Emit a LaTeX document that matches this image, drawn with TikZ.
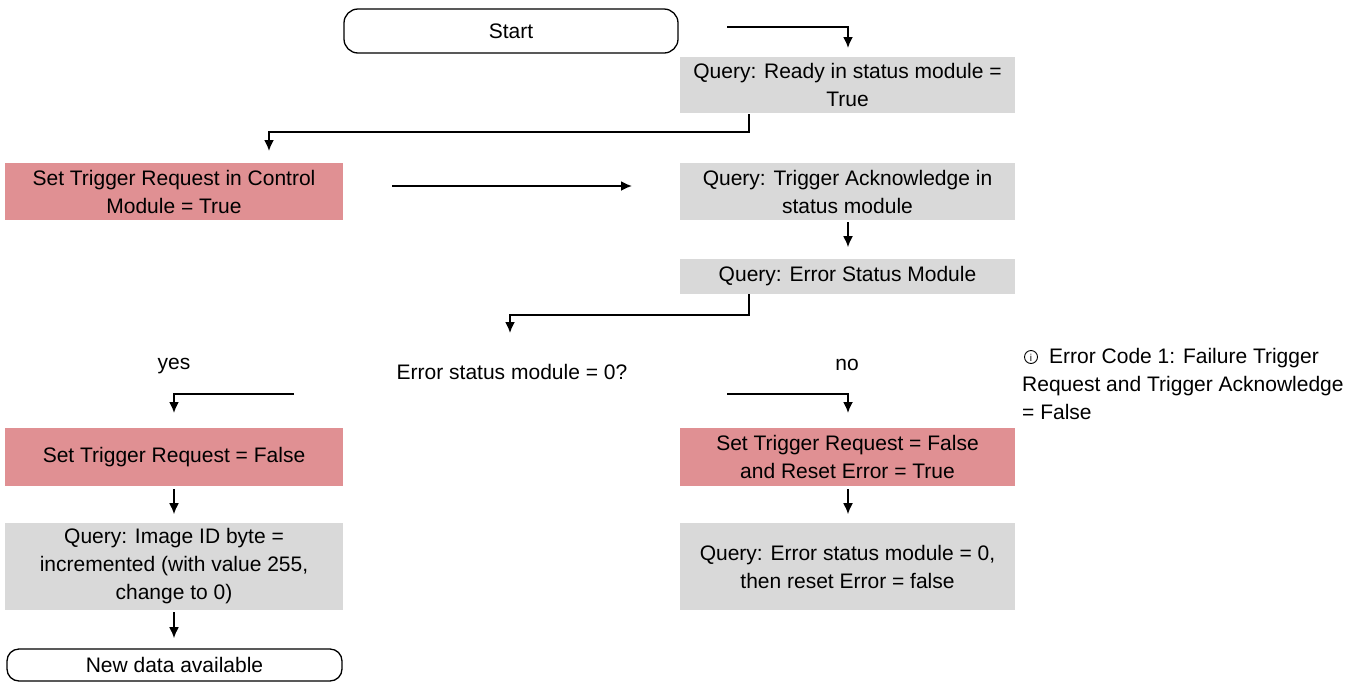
\documentclass[tikz,border=0pt]{standalone}
\usepackage{fontspec}
\setmainfont{Liberation Sans}
\usetikzlibrary{positioning,calc,arrows.meta}

\definecolor{actred}{HTML}{E09093}
\definecolor{querygray}{HTML}{D9D9D9}

\begin{document}
\begin{tikzpicture}
    [x=1pt,y=-1pt,
     txt/.style={align=center,font=\fontsize{21}{28}\selectfont,inner sep=0pt},
     query/.style={txt,fill=querygray,minimum width=335pt},
     action/.style={txt,fill=actred,minimum width=338pt},
     terminal/.style={txt,draw,line width=1.3pt,rounded corners=14pt},
     flow/.style={line width=1.8pt,-{Latex[length=11pt,width=10pt]}}]

    \useasboundingbox (0,0) rectangle (1365,686);

    % start and first query
    \node[terminal,minimum width=334pt,minimum height=44pt] (start) at (511,31) {Start};
    \node[query,minimum height=56pt] (ready) at (847.5,85) {Query: Ready in status module =\\True};

    % trigger request
    \node[action,minimum height=57pt] (setreq) at (174,191.5) {Set Trigger Request in Control\\Module = True};
    \node[query,minimum height=57pt] (ack) at (847.5,191.5) {Query: Trigger Acknowledge in\\status module};
    \node[query,minimum height=35pt] (errq) at (847.5,276.5) {Query: Error Status Module};

    % decision
    \node[txt] (decide) at (512,372) {Error status module = 0?};
    \node[txt] (yes) at (174,366) {yes};
    \node[txt] (no) at (847,365) {no};

    % yes branch
    \node[action,minimum height=58pt] (setfalse) at (174,457) {Set Trigger Request = False};
    \node[query,minimum width=338pt,minimum height=87pt] (imgid) at (174,566.5) {Query: Image ID byte =\\incremented (with value 255,\\change to 0)};
    \node[terminal,minimum width=335pt,minimum height=32pt,rounded corners=12pt] (done) at (174.5,665) {New data available};

    % no branch
    \node[action,minimum width=335pt,minimum height=58pt] (reset) at (847.5,457) {Set Trigger Request = False\\and Reset Error = True};
    \node[query,minimum height=87pt] (errreset) at (847.5,566.5) {Query: Error status module = 0,\\then reset Error = false};

    % note with info icon
    \node[txt,align=left,anchor=west] (info) at (1022,384) {\hspace{27pt}Error Code 1: Failure Trigger\\Request and Trigger Acknowledge\\= False};
    \draw[line width=0.9pt] (1031,357) circle (6.5pt);
    \node[inner sep=0pt,font=\fontsize{10}{10}\selectfont] (icon) at (1031,357.5) {i};

    % connectors
    \coordinate (s1) at (727,27);
    \coordinate (e1) at (848,48);
    \coordinate (s2) at (749,114);
    \coordinate (e2) at (269,151);
    \coordinate (s3) at (392,186);
    \coordinate (e3) at (632,186);
    \coordinate (s5) at (749,294);
    \coordinate (e5) at (510,333);
    \coordinate (s6) at (294,394);
    \coordinate (e6) at (174,413);
    \coordinate (s7) at (727,394);
    \coordinate (e7) at (848,413);

    \draw[flow] (s1) -| (e1);
    \draw[flow] (s2) -- ++(0,18) -| (e2);
    \draw[flow] (s3) -- (e3);
    \draw[flow] (ack.south) ++(0.5,2) -- ++(0,25);
    \draw[flow] (s5) -- ++(0,21) -| (e5);
    \draw[flow] (s6) -| (e6);
    \draw[flow] (s7) -| (e7);
    \draw[flow] (setfalse.south) ++(0,3) -- ++(0,25);
    \draw[flow] (reset.south) ++(0.5,3) -- ++(0,25);
    \draw[flow] (imgid.south) ++(0,2) -- ++(0,26);

\end{tikzpicture}
\end{document}
